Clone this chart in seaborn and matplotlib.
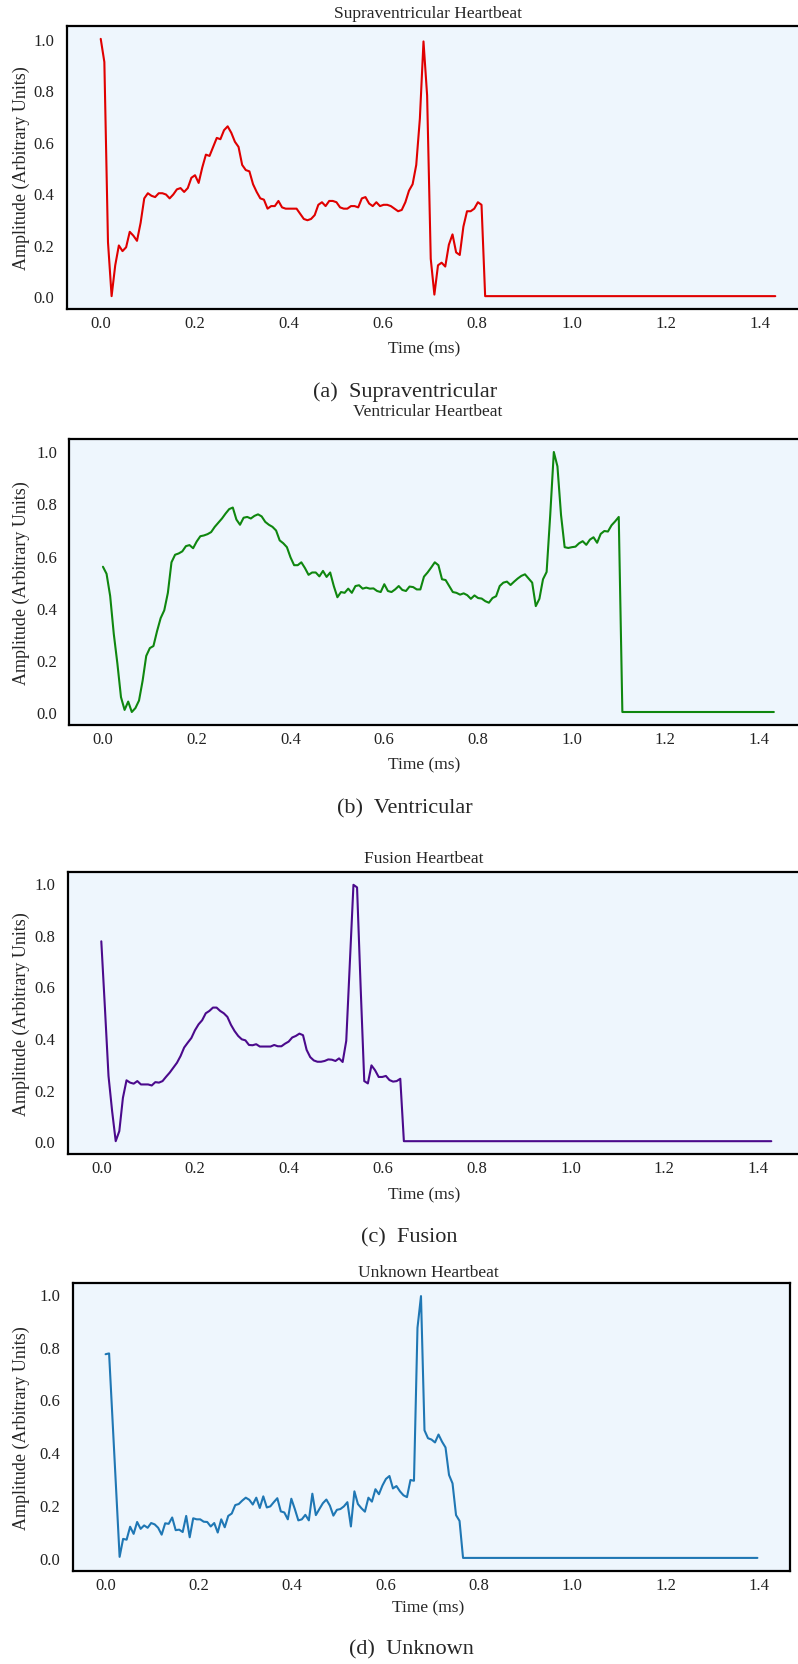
import numpy as np
import pandas as pd
import matplotlib
matplotlib.use("Agg")
import matplotlib.pyplot as plt
import seaborn as sns

# ---------------- data ----------------
N_SAMPLES = 187
# (start time, sample period) of each beat, in ms as labelled on the axis
SV_T0, SV_DT = 0.0, 1.433 / 186
V_T0, V_DT = 0.0, 1.432 / 186
F_T0, F_DT = 0.0, 1.428 / 186
Q_T0, Q_DT = 0.0, 1.397 / 186

supraventricular = [
    1.0, 0.91, 0.21, 0.0, 0.12, 0.197, 0.175, 0.19, 0.25, 0.235,
    0.215, 0.285, 0.38, 0.40, 0.39, 0.385, 0.40, 0.40, 0.395, 0.38,
    0.395, 0.415, 0.42, 0.405, 0.42, 0.46, 0.47, 0.44, 0.50, 0.55,
    0.545, 0.58, 0.615, 0.61, 0.645, 0.66, 0.635, 0.60, 0.58, 0.51,
    0.49, 0.485, 0.435, 0.405, 0.38, 0.375, 0.34, 0.35, 0.35, 0.37,
    0.345, 0.34, 0.34, 0.34, 0.34, 0.32, 0.30, 0.295, 0.30, 0.315,
    0.355, 0.365, 0.35, 0.37, 0.37, 0.365, 0.345, 0.34, 0.34, 0.35,
    0.35, 0.345, 0.38, 0.385, 0.36, 0.35, 0.365, 0.35, 0.355, 0.355,
    0.35, 0.34, 0.33, 0.335, 0.365, 0.41, 0.435, 0.51, 0.69, 0.99,
    0.78, 0.145, 0.006, 0.12, 0.13, 0.115, 0.20, 0.24, 0.17, 0.16,
    0.27, 0.33, 0.33, 0.34, 0.365, 0.355,
]

ventricular = [
    0.557, 0.53, 0.445, 0.30, 0.186, 0.057, 0.008, 0.04, 0.0, 0.015,
    0.044, 0.12, 0.215, 0.245, 0.253, 0.31, 0.36, 0.39, 0.457, 0.574,
    0.603, 0.608, 0.616, 0.636, 0.64, 0.628, 0.654, 0.674, 0.677, 0.682,
    0.69, 0.71, 0.726, 0.742, 0.761, 0.778, 0.784, 0.738, 0.718, 0.745,
    0.748, 0.742, 0.752, 0.758, 0.75, 0.729, 0.718, 0.71, 0.696, 0.658,
    0.647, 0.632, 0.593, 0.563, 0.563, 0.574, 0.552, 0.526, 0.535, 0.535,
    0.52, 0.541, 0.518, 0.535, 0.483, 0.44, 0.46, 0.457, 0.473, 0.457,
    0.483, 0.486, 0.473, 0.477, 0.473, 0.474, 0.464, 0.46, 0.49, 0.464,
    0.46, 0.47, 0.483, 0.468, 0.464, 0.481, 0.479, 0.47, 0.47, 0.519,
    0.535, 0.554, 0.574, 0.563, 0.509, 0.506, 0.483, 0.46, 0.457, 0.45,
    0.455, 0.448, 0.434, 0.447, 0.437, 0.435, 0.425, 0.419, 0.437, 0.444,
    0.483, 0.496, 0.50, 0.487, 0.50, 0.512, 0.522, 0.528, 0.512, 0.496,
    0.406, 0.434, 0.509, 0.537, 0.755, 0.997, 0.942, 0.755, 0.632, 0.629,
    0.632, 0.634, 0.647, 0.655, 0.641, 0.661, 0.67, 0.649, 0.683, 0.694,
    0.692, 0.716, 0.731, 0.748,
]

fusion = [
    0.775, 0.518, 0.253, 0.117, 0.0, 0.039, 0.168, 0.236, 0.227, 0.223,
    0.233, 0.22, 0.22, 0.22, 0.216, 0.229, 0.227, 0.233, 0.25, 0.266,
    0.285, 0.304, 0.33, 0.363, 0.382, 0.40, 0.43, 0.453, 0.469, 0.496,
    0.505, 0.518, 0.518, 0.505, 0.496, 0.482, 0.451, 0.427, 0.408, 0.395,
    0.391, 0.373, 0.372, 0.376, 0.367, 0.367, 0.367, 0.367, 0.373, 0.368,
    0.368, 0.378, 0.386, 0.402, 0.408, 0.417, 0.411, 0.354, 0.326, 0.313,
    0.308, 0.308, 0.311, 0.317, 0.316, 0.311, 0.321, 0.307, 0.389, 0.687,
    0.994, 0.984, 0.596, 0.233, 0.224, 0.294, 0.275, 0.249, 0.249, 0.253,
    0.237, 0.231, 0.233, 0.242,
]

unknown = [
    0.771, 0.774, 0.52, 0.263, 0.004, 0.072, 0.069, 0.118, 0.091, 0.136,
    0.11, 0.123, 0.114, 0.132, 0.127, 0.114, 0.088, 0.131, 0.129, 0.153,
    0.105, 0.107, 0.098, 0.159, 0.078, 0.15, 0.146, 0.146, 0.137, 0.136,
    0.119, 0.132, 0.096, 0.146, 0.116, 0.159, 0.168, 0.20, 0.204, 0.217,
    0.228, 0.22, 0.202, 0.228, 0.189, 0.233, 0.191, 0.195, 0.211, 0.226,
    0.176, 0.172, 0.146, 0.224, 0.185, 0.142, 0.146, 0.163, 0.142, 0.243,
    0.162, 0.185, 0.207, 0.221, 0.198, 0.16, 0.182, 0.185, 0.195, 0.211,
    0.119, 0.252, 0.204, 0.188, 0.175, 0.228, 0.213, 0.26, 0.241, 0.274,
    0.299, 0.31, 0.263, 0.272, 0.252, 0.237, 0.23, 0.295, 0.292, 0.871,
    0.991, 0.483, 0.453, 0.448, 0.437, 0.467, 0.44, 0.418, 0.314, 0.282,
    0.162, 0.14,
]

titles = ["Supraventricular Heartbeat", "Ventricular Heartbeat",
          "Fusion Heartbeat", "Unknown Heartbeat"]
captions = ["(a)  Supraventricular", "(b)  Ventricular",
            "(c)  Fusion", "(d)  Unknown"]
colors = ["#e00000", "#0f870f", "#4b0a8c", "#1f77b4"]
x_label = "Time (ms)"
y_label = "Amplitude (Arbitrary Units)"

beats = [(supraventricular, SV_T0, SV_DT), (ventricular, V_T0, V_DT),
         (fusion, F_T0, F_DT), (unknown, Q_T0, Q_DT)]

# ---------------- style ----------------
sns.set_style("white")
plt.rcParams["font.family"] = ["Liberation Serif", "DejaVu Serif"]
plt.rcParams["axes.facecolor"] = "#eef6fd"

W, H = 798, 1665
fig = plt.figure(figsize=(W / 100, H / 100), dpi=100)

# pixel layout: left, top, bottom, width of each axes box
boxes = [(67.0, 27, 310, 742), (69.4, 440, 726, 738),
         (67.8, 873, 1155, 737), (73.0, 1284, 1572, 717)]
title_xy = [(428, 14), (428, 412), (424, 859), (428, 1273)]
xlabel_xy = [(424, 349), (424, 765), (424, 1195), (428, 1608)]
ylabel_x = [21, 21, 21, 21]
caption_xy = [(405, 392), (405, 809), (409, 1238), (411, 1650)]

for i, (vals, t0, dt) in enumerate(beats):
    left, top, bottom, width = boxes[i]
    ax = fig.add_axes([left / W, 1 - bottom / H, width / W, (bottom - top) / H])
    amp = np.array(vals + [0.0] * (N_SAMPLES - len(vals)))
    t = t0 + dt * np.arange(N_SAMPLES)
    df = pd.DataFrame({"t": t, "amp": amp})
    sns.lineplot(data=df, x="t", y="amp", ax=ax, color=colors[i], linewidth=1.5)
    ax.set_xticks([0.0, 0.2, 0.4, 0.6, 0.8, 1.0, 1.2, 1.4])
    ax.set_yticks([0.0, 0.2, 0.4, 0.6, 0.8, 1.0])
    ax.set_xticklabels([f"{v:.1f}" for v in ax.get_xticks()])
    ax.set_yticklabels([f"{v:.1f}" for v in ax.get_yticks()])
    ax.tick_params(length=0, labelsize=12, colors="#222222", pad=4)
    ax.tick_params(axis="y", pad=9)
    for s in ax.spines.values():
        s.set_color("black")
        s.set_linewidth(1.6)
    ax.set_xlabel(x_label, fontsize=12.5)
    ax.set_ylabel(y_label, fontsize=13)
    hpx = bottom - top
    ax.xaxis.set_label_coords((xlabel_xy[i][0] - left) / width,
                              (bottom - xlabel_xy[i][1]) / hpx)
    ax.xaxis.label.set_va("center")
    ax.yaxis.set_label_coords((ylabel_x[i] - left) / width, 0.5)
    ax.yaxis.label.set_va("center")
    fig.text(title_xy[i][0] / W, 1 - title_xy[i][1] / H, titles[i],
             ha="center", va="center", fontsize=12.5)
    fig.text(caption_xy[i][0] / W, 1 - caption_xy[i][1] / H, captions[i],
             ha="center", va="center", fontsize=16)

fig.savefig("out.png", dpi=100)
